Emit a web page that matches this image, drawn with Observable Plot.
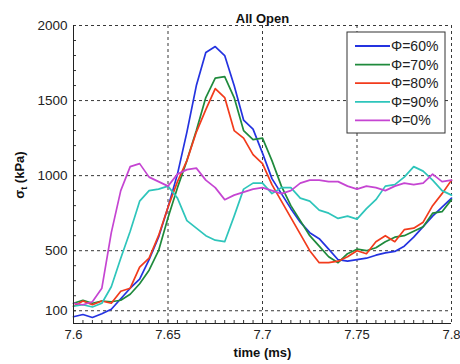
<!DOCTYPE html>
<html><head><meta charset="utf-8">
<script src="https://cdn.jsdelivr.net/npm/d3@7"></script>
<script src="https://cdn.jsdelivr.net/npm/@observablehq/plot@0.6"></script>
<style>
body{margin:0;background:#fff;}
#chart{position:relative;width:460px;height:364px;}
svg{font-family:"Liberation Sans",Arial,sans-serif;}
</style>
</head><body><div id="chart"></div>
<script>
const times = [7.600,7.605,7.610,7.615,7.620,7.625,7.630,7.635,7.640,7.645,7.650,7.655,7.660,7.665,7.670,7.675,7.680,7.685,7.690,7.695,7.700,7.705,7.710,7.715,7.720,7.725,7.730,7.735,7.740,7.745,7.750,7.755,7.760,7.765,7.770,7.775,7.780,7.785,7.790,7.795,7.800];
const seriesNames = ["Φ=60%","Φ=70%","Φ=80%","Φ=90%","Φ=0%"];
const seriesColors = ["#2433e0","#1f8a3c","#f23b1c","#2ec5bb","#c545d2"];
const phi60 = [60,75,55,80,110,180,250,310,440,590,790,1010,1290,1600,1820,1860,1800,1600,1370,1310,1150,980,880,780,690,620,580,510,440,430,440,450,470,485,495,530,590,660,730,790,850];
const phi70 = [150,170,150,165,160,170,210,280,370,500,720,920,1100,1300,1520,1650,1660,1520,1300,1240,1250,1100,930,800,700,600,530,460,420,480,510,500,520,560,590,600,630,660,750,760,840];
const phi80 = [130,165,140,165,150,230,250,390,450,600,790,960,1100,1290,1440,1580,1520,1300,1250,1140,1080,940,830,720,610,500,420,420,430,460,500,480,560,600,560,640,650,690,800,880,970];
const phi90 = [130,140,125,150,260,450,630,830,900,910,930,850,700,650,600,570,560,730,910,950,950,880,920,920,850,830,770,750,715,730,710,780,840,930,940,990,1060,1030,970,900,870];
const phi0  = [150,140,160,250,620,900,1060,1080,990,960,930,1010,1040,1050,970,920,840,870,890,910,920,900,880,900,950,970,970,960,960,930,910,930,920,900,930,950,940,950,1010,960,970];
const xTicks = [7.6,7.65,7.7,7.75,7.8];
const xTickLabels = ["7.6","7.65","7.7","7.75","7.8"];
const yTicks = [100,500,1000,1500,2000];
const xMinor = [7.605,7.61,7.615,7.62,7.625,7.63,7.635,7.64,7.645,7.65,7.655,7.66,7.665,7.67,7.675,7.68,7.685,7.69,7.695,7.70,7.705,7.71,7.715,7.72,7.725,7.73,7.735,7.74,7.745,7.75,7.755,7.76,7.765,7.77,7.775,7.78,7.785,7.79,7.795];
const yMinor = [100,200,300,400,500,600,700,800,900,1000,1100,1200,1300,1400,1500,1600,1700,1800,1900];

const allSeries = [phi60,phi70,phi80,phi90,phi0];
const data = [];
allSeries.forEach((arr,i)=>arr.forEach((v,j)=>data.push({t:times[j], v, s:seriesNames[i]})));

const plot = Plot.plot({
  width:460, height:364,
  marginLeft:73, marginRight:9, marginTop:25, marginBottom:41,
  style:{fontFamily:"'Liberation Sans',Arial,sans-serif", background:"#fff", overflow:"visible"},
  x:{domain:[7.6,7.8], label:null},
  y:{domain:[15,2000], label:null},
  color:{domain:seriesNames, range:seriesColors},
  marks:[
    Plot.gridX(xTicks.slice(1), {stroke:"#222", strokeOpacity:0.9, strokeDasharray:"3,3", strokeWidth:1}),
    Plot.gridY(yTicks, {stroke:"#222", strokeOpacity:0.9, strokeDasharray:"3,3", strokeWidth:1}),
    Plot.axisX({ticks:xMinor, tickSize:-3, tickFormat:()=>"", stroke:"#333", label:null}),
    Plot.axisY({ticks:yMinor, tickSize:-3, tickFormat:()=>"", stroke:"#333", label:null}),
    Plot.axisX({ticks:xTicks, tickSize:0, tickPadding:6, tickFormat:(d,i)=>xTickLabels[i], fontSize:13, fill:"#222", label:null}),
    Plot.axisY({ticks:yTicks, tickSize:0, tickPadding:6, tickFormat:d=>String(d), fontSize:13.5, fill:"#222", label:null}),
    Plot.line(data, {x:"t", y:"v", z:"s", stroke:"s", strokeWidth:1.7}),
    Plot.ruleX([7.6], {stroke:"#222", strokeWidth:1}),
    Plot.ruleY([15], {stroke:"#222", strokeWidth:1}),
    Plot.text(["All Open"], {frameAnchor:"top", dy:-12, fontWeight:"bold", fontSize:13, fill:"#111"}),
    Plot.text(["time (ms)"], {frameAnchor:"bottom", dy:33, fontWeight:"bold", fontSize:13, fill:"#111"})
  ]
});
document.getElementById("chart").appendChild(plot);

const svg = d3.select(plot);
// y label with subscript
const yl = svg.append("text").attr("transform","translate(24,175) rotate(-90)")
  .attr("text-anchor","middle").attr("font-weight","bold").attr("font-size",13).attr("fill","#111");
yl.append("tspan").text("σ");
yl.append("tspan").attr("font-size",9).attr("dy",3).text("t");
yl.append("tspan").attr("dy",-3).text(" (kPa)");

// legend
const lg = svg.append("g").attr("transform","translate(347,32)");
lg.append("rect").attr("width",98).attr("height",101).attr("fill","#fff").attr("stroke","#333").attr("stroke-width",1);
seriesNames.forEach((n,i)=>{
  const y = 14 + i*18.6;
  lg.append("line").attr("x1",8).attr("x2",43).attr("y1",y).attr("y2",y).attr("stroke",seriesColors[i]).attr("stroke-width",1.8);
  lg.append("text").attr("x",44).attr("y",y).attr("dy","0.35em").attr("text-anchor","start").attr("font-size",14).attr("fill","#222").text(n);
});
</script>
</body></html>
